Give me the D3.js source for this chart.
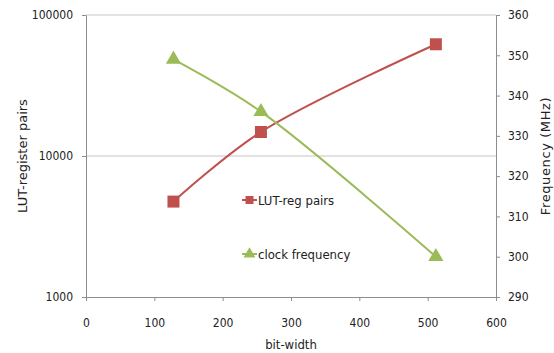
<!DOCTYPE html>
<html>
<head>
<meta charset="utf-8">
<script src="https://cdn.jsdelivr.net/npm/d3@7"></script>
<style>
  body { margin: 0; background: #fff; }
  text { font-family: "DejaVu Sans Condensed", "Liberation Sans Narrow", sans-serif; fill: #222; }
</style>
</head>
<body>
<div id="chart"></div>
<script>
// data
const bitWidths = [128, 256, 512];
const lutRegPairs = [4750, 14800, 62000];
const clockFreq = [349, 336, 300];

const xTicks = [0, 100, 200, 300, 400, 500, 600];
const leftTicks = [1000, 10000, 100000];
const rightTicks = [290, 300, 310, 320, 330, 340, 350, 360];

const width = 554, height = 353;
const margin = { top: 15, right: 58, bottom: 56, left: 86 };

const svg = d3.select("#chart").append("svg")
    .attr("width", width)
    .attr("height", height);

const x = d3.scaleLinear().domain([0, 600]).range([margin.left, width - margin.right]);
const yL = d3.scaleLog().domain([1000, 100000]).range([height - margin.bottom, margin.top]);
const yR = d3.scaleLinear().domain([290, 360]).range([height - margin.bottom, margin.top]);

// gridlines on the log axis
svg.append("g")
    .selectAll("line")
    .data(leftTicks.slice(1))
    .enter()
    .append("line")
    .attr("x1", x(0))
    .attr("x2", x(600))
    .attr("y1", d => yL(d))
    .attr("y2", d => yL(d))
    .attr("stroke", "#d9d9d9")
    .attr("stroke-width", 1.5);

// axes
const axisColor = "#8c8c8c";
function styleAxis(g) {
    g.selectAll("path, line").attr("stroke", axisColor);
    g.selectAll("text").style("font-size", "12px").attr("fill", "#222");
}

svg.append("g")
    .attr("transform", `translate(0, ${yL(1000)})`)
    .call(d3.axisBottom(x).tickValues(xTicks).tickSize(4).tickSizeOuter(0).tickPadding(17))
    .call(styleAxis);

svg.append("g")
    .attr("transform", `translate(${x(0)}, 0)`)
    .call(d3.axisLeft(yL).tickValues(leftTicks).tickFormat(d3.format("d")).tickSize(4).tickSizeOuter(0).tickPadding(9))
    .call(styleAxis);

svg.append("g")
    .attr("transform", `translate(${x(600)}, 0)`)
    .call(d3.axisRight(yR).tickValues(rightTicks).tickSize(4).tickSizeOuter(0).tickPadding(8))
    .call(styleAxis);

// series
const red = "#c0504d", green = "#9bbb59";

const lineL = d3.line()
    .x((d, i) => x(bitWidths[i]))
    .y(d => yL(d))
    .curve(d3.curveCatmullRom.alpha(0.5));

const lineR = d3.line()
    .x((d, i) => x(bitWidths[i]))
    .y(d => yR(d))
    .curve(d3.curveCatmullRom.alpha(0.5));

svg.append("path")
    .datum(lutRegPairs)
    .attr("d", lineL)
    .attr("fill", "none")
    .attr("stroke", red)
    .attr("stroke-width", 2);

svg.append("path")
    .datum(clockFreq)
    .attr("d", lineR)
    .attr("fill", "none")
    .attr("stroke", green)
    .attr("stroke-width", 2);

const square = d3.symbol().type(d3.symbolSquare).size(144);
const triangle = d3.symbol().type(d3.symbolTriangle).size(100);

svg.append("g")
    .selectAll("path")
    .data(lutRegPairs)
    .enter()
    .append("path")
    .attr("d", square)
    .attr("transform", (d, i) => `translate(${x(bitWidths[i])}, ${yL(d)})`)
    .attr("fill", red);

svg.append("g")
    .selectAll("path")
    .data(clockFreq)
    .enter()
    .append("path")
    .attr("d", triangle)
    .attr("transform", (d, i) => `translate(${x(bitWidths[i])}, ${yR(d)})`)
    .attr("fill", green);

// legend
const legendItems = [
    { name: "LUT-reg pairs", color: red, sym: d3.symbol().type(d3.symbolSquare).size(64), y: 200 },
    { name: "clock frequency", color: green, sym: d3.symbol().type(d3.symbolTriangle).size(60), y: 254 }
];
const legend = svg.append("g").attr("transform", "translate(242, 0)");
legendItems.forEach(item => {
    legend.append("line")
        .attr("x1", 0).attr("x2", 15)
        .attr("y1", item.y).attr("y2", item.y)
        .attr("stroke", item.color)
        .attr("stroke-width", 2);
    legend.append("path")
        .attr("d", item.sym())
        .attr("transform", `translate(7.5, ${item.y})`)
        .attr("fill", item.color);
    legend.append("text")
        .attr("x", 16)
        .attr("y", item.y)
        .attr("dy", "0.35em")
        .style("font-size", "13px")
        .text(item.name);
});

// axis titles
svg.append("text")
    .attr("transform", `translate(22, ${(yL(1000) + yL(100000)) / 2}) rotate(-90)`)
    .attr("text-anchor", "middle")
    .attr("dy", "0.35em")
    .style("font-family", "'DejaVu Sans', sans-serif")
    .style("font-size", "13px")
    .text("LUT-register pairs");

svg.append("text")
    .attr("transform", `translate(545, ${(yL(1000) + yL(100000)) / 2}) rotate(-90)`)
    .attr("text-anchor", "middle")
    .attr("dy", "0.35em")
    .style("font-family", "'DejaVu Sans', sans-serif")
    .style("font-size", "13px")
    .style("letter-spacing", "0.6px")
    .text("Frequency (MHz)");

svg.append("text")
    .attr("x", x(300))
    .attr("y", 349)
    .attr("text-anchor", "middle")
    .style("font-size", "13px")
    .text("bit-width");
</script>
</body>
</html>
